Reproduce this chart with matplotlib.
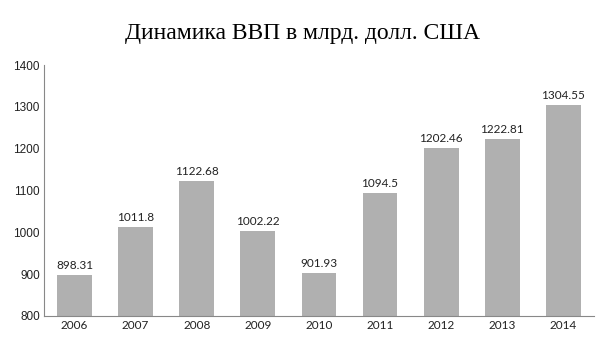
import numpy as np
import matplotlib.pyplot as plt

years = ['2006', '2007', '2008', '2009', '2010', '2011', '2012', '2013', '2014']
gdp = [898.31, 1011.8, 1122.68, 1002.22, 901.93, 1094.5, 1202.46, 1222.81, 1304.55]
labels = ['898.31', '1011.8', '1122.68', '1002.22', '901.93', '1094.5', '1202.46', '1222.81', '1304.55']

fig = plt.figure(figsize=(6.05, 3.4), dpi=100)
ax = fig.add_axes([0.0727, 0.0706, 0.909, 0.738])

x = np.arange(len(years))
bars = ax.bar(x, gdp, width=0.57, color='#b0b0b0', zorder=2)
for xi, v, lab in zip(x, gdp, labels):
    ax.text(xi, v + 10, lab, ha='center', va='bottom', fontsize=8.5, family='Lato', color='#222222')

ax.set_ylim(800, 1400)
ax.set_xlim(-0.5, len(years) - 0.5)
ax.set_yticks([800, 900, 1000, 1100, 1200, 1300, 1400])
ax.set_xticks(x)
ax.set_xticklabels(years, family='Lato', fontsize=8.5)
for t in ax.get_yticklabels():
    t.set_family('Liberation Sans')
    t.set_fontsize(8.5)
ax.tick_params(axis='both', length=0, pad=3, colors='#222222')

for s in ['top', 'right']:
    ax.spines[s].set_visible(False)
ax.spines['left'].set_color('#888888')
ax.spines['bottom'].set_color('#888888')

fig.text(0.5, 0.9, 'Динамика ВВП в млрд. долл. США', ha='center', va='center',
         family='Liberation Serif', fontsize=17)

fig.savefig('out.png', dpi=100)
